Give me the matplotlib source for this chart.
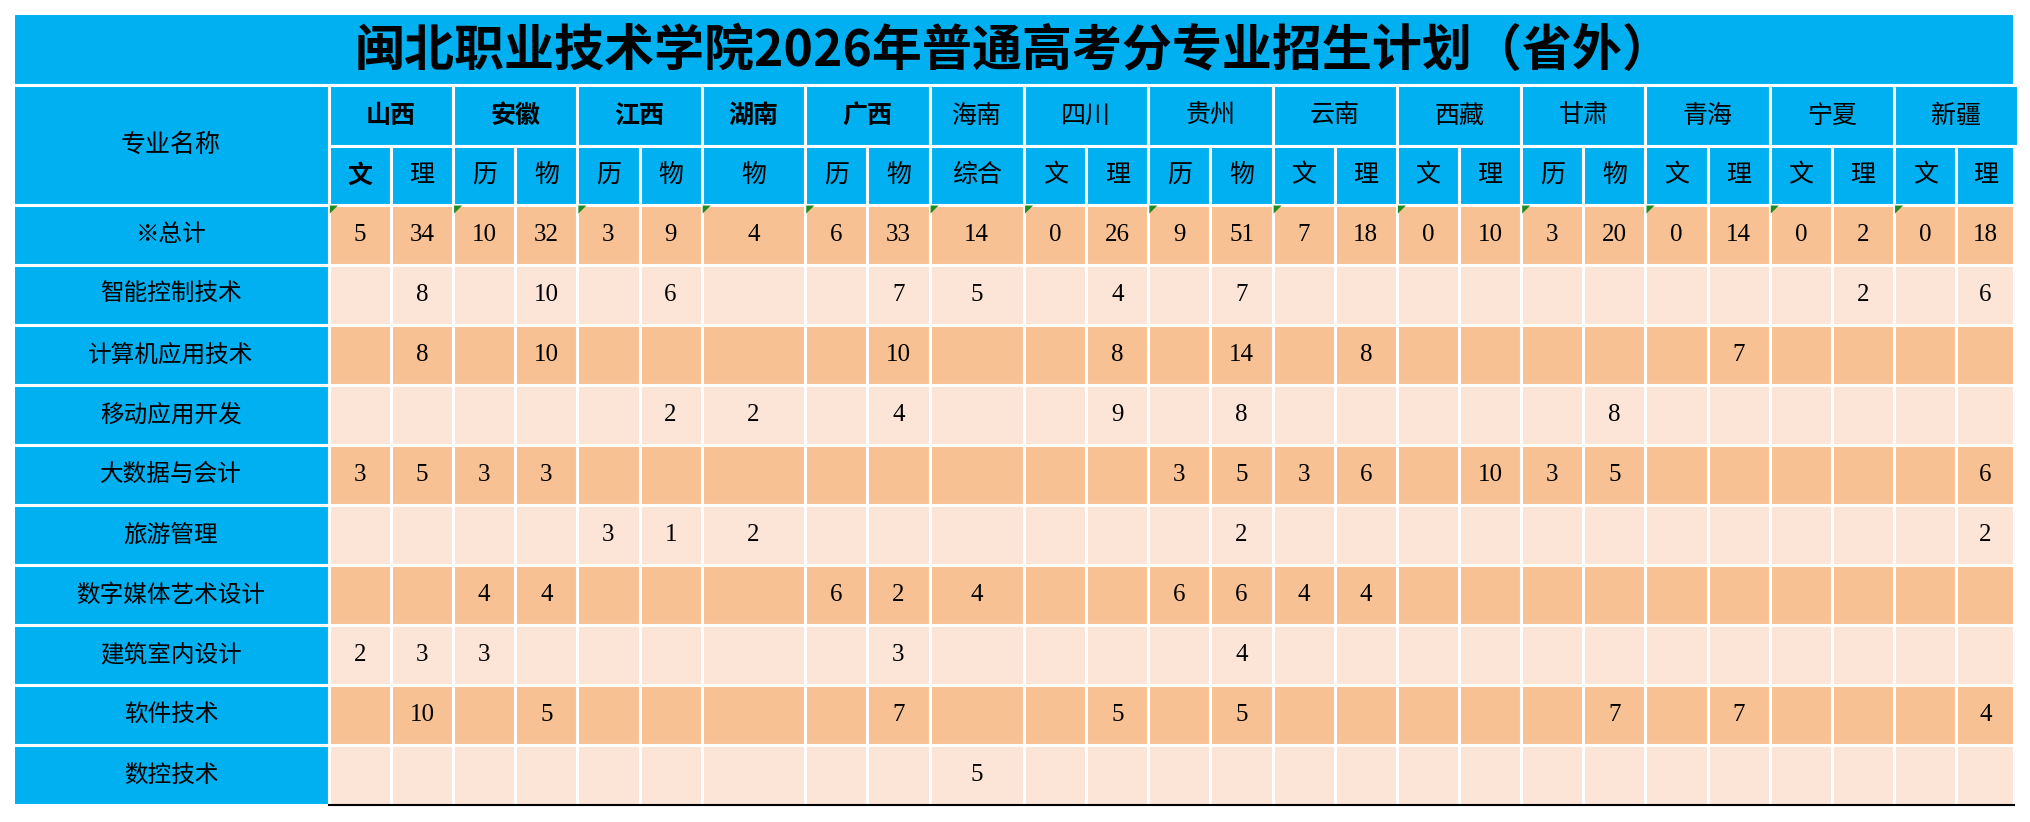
import matplotlib.pyplot as plt
from matplotlib.patches import Rectangle, Polygon

plt.rcParams['font.family'] = ['Noto Sans CJK SC', 'DejaVu Sans']

title = '闽北职业技术学院2026年普通高考分专业招生计划（省外）'
provinces = ['山西', '安徽', '江西', '湖南', '广西', '海南', '四川', '贵州',
             '云南', '西藏', '甘肃', '青海', '宁夏', '新疆']
prov_bold = ['山西', '安徽', '江西', '湖南', '广西']
subjects = [['文', '理'], ['历', '物'], ['历', '物'], ['物'], ['历', '物'], ['综合'],
            ['文', '理'], ['历', '物'], ['文', '理'], ['文', '理'], ['历', '物'],
            ['文', '理'], ['文', '理'], ['文', '理']]
majors = ['※总计', '智能控制技术', '计算机应用技术', '移动应用开发', '大数据与会计',
          '旅游管理', '数字媒体艺术设计', '建筑室内设计', '软件技术', '数控技术']
# one value per sub-column (26), None = empty
values = [
    [5, 34, 10, 32, 3, 9, 4, 6, 33, 14, 0, 26, 9, 51, 7, 18, 0, 10, 3, 20, 0, 14, 0, 2, 0, 18],
    {1: 8, 3: 10, 5: 6, 8: 7, 9: 5, 11: 4, 13: 7, 23: 2, 25: 6},
    {1: 8, 3: 10, 8: 10, 11: 8, 13: 14, 15: 8, 21: 7},
    {5: 2, 6: 2, 8: 4, 11: 9, 13: 8, 19: 8},
    {0: 3, 1: 5, 2: 3, 3: 3, 12: 3, 13: 5, 14: 3, 15: 6, 17: 10, 18: 3, 19: 5, 25: 6},
    {4: 3, 5: 1, 6: 2, 13: 2, 25: 2},
    {2: 4, 3: 4, 7: 6, 8: 2, 9: 4, 12: 6, 13: 6, 14: 4, 15: 4},
    {0: 2, 1: 3, 2: 3, 8: 3, 13: 4},
    {1: 10, 3: 5, 8: 7, 11: 5, 13: 5, 19: 7, 21: 7, 25: 4},
    {9: 5},
]

BLUE = '#00B0F0'
ORANGE = '#F8C193'
LIGHT = '#FCE4D6'

S = 2030 / 1568  # work in reference display units, scale to pixels
fig = plt.figure(figsize=(20.30, 8.22), dpi=100)
ax = fig.add_axes([0, 0, 1, 1])
ax.set_xlim(0, 2030)
ax.set_ylim(822, 0)
ax.axis('off')

x0, xname, xend = 10 * S, 254 * S, 1556 * S
y_title, y_h1, y_h2, y_data = 10 * S, 66 * S, 113 * S, 158 * S
rh = 46.4 * S
wide = {'湖南': 80, '海南': 73}

# sub-column x edges
edges = [xname]
prov_edges = []
for p, subs in zip(provinces, subjects):
    start = edges[-1]
    w = wide.get(p, 48 * len(subs)) * S / len(subs)
    for _ in subs:
        edges.append(edges[-1] + w)
    prov_edges.append((start, edges[-1]))
edges[-1] = xend

lw = 2.2
def cell(x, y, w, h, color):
    ax.add_patch(Rectangle((x, y), w, h, facecolor=color, edgecolor='white', lw=lw))

# title
cell(x0, y_title, xend - x0, y_h1 - y_title, BLUE)
ax.text((x0 + xend) / 2, (y_title + y_h1) / 2 + 2, title, ha='center', va='center',
        fontsize=36, fontweight='bold')

# header
cell(x0, y_h1, xname - x0, y_data - y_h1, BLUE)
ax.text((x0 + xname) / 2, (y_h1 + y_data) / 2, '专业名称', ha='center', va='center', fontsize=18)
for p, (a, b) in zip(provinces, prov_edges):
    cell(a, y_h1, b - a, y_h2 - y_h1, BLUE)
    ax.text((a + b) / 2, (y_h1 + y_h2) / 2, p, ha='center', va='center', fontsize=18,
            fontweight='bold' if p in prov_bold else 'normal')
k = 0
for subs in subjects:
    for s in subs:
        a, b = edges[k], edges[k + 1]
        cell(a, y_h2, b - a, y_data - y_h2, BLUE)
        ax.text((a + b) / 2, (y_h2 + y_data) / 2, s, ha='center', va='center', fontsize=18,
                fontweight='bold' if k == 0 else 'normal')
        k += 1

# data rows
for r, (m, vals) in enumerate(zip(majors, values)):
    y = y_data + r * rh
    cell(x0, y, xname - x0, rh, BLUE)
    ax.text((x0 + xname) / 2, y + rh / 2, m, ha='center', va='center', fontsize=17)
    color = ORANGE if r % 2 == 0 else LIGHT
    for c in range(len(edges) - 1):
        a, b = edges[c], edges[c + 1]
        cell(a, y, b - a, rh, color)
        v = vals[c] if isinstance(vals, list) else vals.get(c)
        if v is not None:
            ax.text((a + b) / 2, y + rh / 2, str(v), ha='center', va='center',
                    fontsize=18, family='Liberation Serif')
    if r == 0:
        for a, _ in prov_edges:
            ax.add_patch(Polygon([(a + 1, y + 1), (a + 9, y + 1), (a + 1, y + 9)],
                                 closed=True, color='#1F8B1F', lw=0))

yb = y_data + len(majors) * rh
ax.plot([xname, xend], [yb, yb], color='black', lw=1.5)

fig.savefig('out.png', dpi=100)
